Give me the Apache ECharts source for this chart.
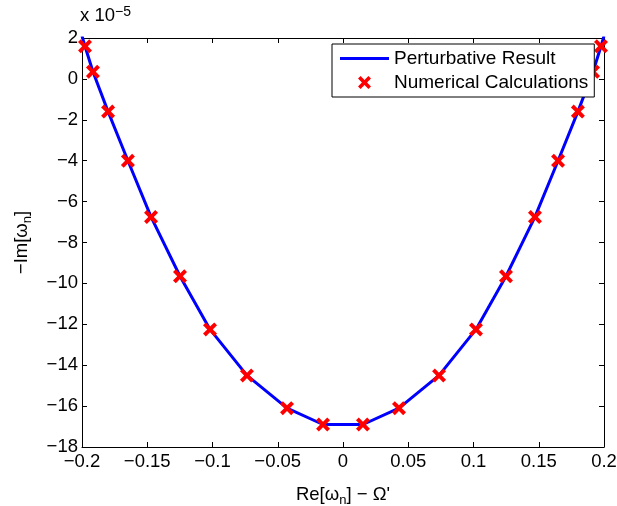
<!DOCTYPE html>
<html>
<head>
<meta charset="utf-8">
<script src="https://cdn.jsdelivr.net/npm/echarts@6/dist/echarts.min.js"></script>
<style>
  html, body { margin: 0; padding: 0; background: #fff; }
  #chart { width: 617px; height: 506px; }
</style>
</head>
<body>
<div id="chart"></div>
<script>
// values in units of 1e-5 for the y axis
const markX = [-0.1977, -0.1916, -0.180, -0.1648, -0.1471, -0.1249, -0.1019, -0.0736, -0.0429, -0.0153,
  0.0153, 0.0429, 0.0736, 0.1019, 0.1249, 0.1471, 0.1648, 0.180, 0.1916, 0.1977]
const markY = [1.6, 0.35, -1.6, -4.0, -6.75, -9.65, -12.25, -14.5, -16.1, -16.9,
  -16.9, -16.1, -14.5, -12.25, -9.65, -6.75, -4.0, -1.6, 0.35, 1.6]
const lineX = [-0.2].concat(markX, [0.2])
const lineY = [2.1].concat(markY, [2.1])
const xTicks = [-0.2, 0.2, 0.05]   // min, max, step
const yTicks = [-18, 2, 2]

const font = '"Liberation Sans", Arial, sans-serif'
const fs = 18.5
const fmt = v => String(+(+v).toFixed(2)).replace('-', '\u2212')
const cross = 'path://M0,2 L2,0 L5,3 L8,0 L10,2 L7,5 L10,8 L8,10 L5,7 L2,10 L0,8 L3,5 Z'
const bar = 'path://M0,0 L50,0 L50,3 L0,3 Z'
const subRich = { sub: { fontSize: 13, fontFamily: font, verticalAlign: 'bottom', padding: [12, 0, 0, 0] } }

const chart = echarts.init(document.getElementById('chart'))

const baseAxis = {
  axisLine: { show: true, onZero: false, lineStyle: { color: '#000', width: 1 } },
  axisTick: { show: true, inside: true, length: 5, lineStyle: { color: '#000' } },
  splitLine: { show: false }
}

chart.setOption({
  animation: false,
  textStyle: { fontFamily: font },
  grid: { left: 82, right: 13, top: 38, bottom: 59, containLabel: false, outerBoundsMode: 'none' },
  title: {
    text: 'x 10{s|\u22125}',
    left: 80, top: 5, padding: 0,
    textStyle: {
      fontFamily: font, fontWeight: 'normal', fontSize: fs, color: '#000',
      rich: { s: { fontSize: 14, verticalAlign: 'top', padding: [0, 0, 8, 0], fontFamily: font } }
    }
  },
  legend: {
    orient: 'vertical',
    left: 332, top: 44,
    backgroundColor: '#fff',
    borderColor: '#000', borderWidth: 1,
    padding: [5, 6, 5, 8],
    itemGap: 5,
    itemWidth: 49, itemHeight: 13,
    textStyle: { fontFamily: font, fontSize: 19, color: '#000' },
    data: [
      { name: 'Perturbative Result', icon: bar, itemStyle: { color: '#0000ff' } },
      { name: 'Numerical Calculations', icon: cross }
    ]
  },
  xAxis: [Object.assign({}, baseAxis, {
    type: 'value', min: xTicks[0], max: xTicks[1], interval: xTicks[2],
    axisLabel: { color: '#000', fontSize: fs, fontFamily: font, margin: 5, formatter: fmt },
    name: 'Re[\u03c9{sub|n}] \u2212 \u03a9\'',
    nameLocation: 'middle', nameGap: 35,
    nameTextStyle: { color: '#000', fontSize: fs, fontFamily: font, rich: subRich }
  }), Object.assign({}, baseAxis, {
    type: 'value', position: 'top', min: xTicks[0], max: xTicks[1], interval: xTicks[2],
    axisLabel: { show: false }
  })],
  yAxis: [Object.assign({}, baseAxis, {
    type: 'value', min: yTicks[0], max: yTicks[1], interval: yTicks[2],
    axisLabel: { color: '#000', fontSize: fs, fontFamily: font, margin: 4, formatter: fmt },
    name: '\u2212Im[\u03c9{sub|n}]',
    nameLocation: 'middle', nameGap: 48, nameRotate: 90,
    nameTextStyle: { color: '#000', fontSize: fs, fontFamily: font, rich: subRich }
  }), Object.assign({}, baseAxis, {
    type: 'value', position: 'right', min: yTicks[0], max: yTicks[1], interval: yTicks[2],
    axisLabel: { show: false }
  })],
  series: [{
    name: 'Perturbative Result',
    type: 'line',
    data: lineX.map((x, i) => [x, lineY[i]]),
    symbol: 'none',
    clip: true,
    lineStyle: { color: '#0000ff', width: 3 },
    itemStyle: { color: '#0000ff' },
    z: 2
  }, {
    name: 'Numerical Calculations',
    type: 'scatter',
    data: markX.map((x, i) => [x, markY[i]]),
    symbol: cross,
    symbolSize: 14,
    itemStyle: { color: '#ff0000', opacity: 1 },
    z: 3
  }]
})
</script>
</body>
</html>
